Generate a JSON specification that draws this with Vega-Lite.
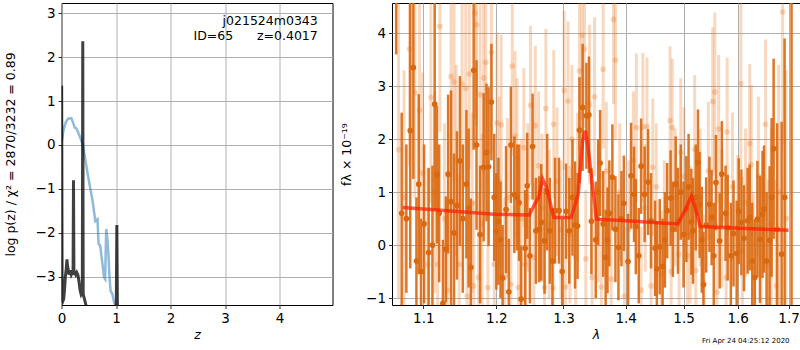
{
  "$schema": "https://vega.github.io/schema/vega-lite/v6.json",
  "padding": {"left": 3.5, "top": 2, "right": 1, "bottom": 0},
  "config": {
    "font": "DejaVu Sans",
    "view": {"stroke": "black", "strokeWidth": 1},
    "concat": {"spacing": 6.5},
    "axis": {
      "domain": false, "ticks": true, "tickColor": "black", "tickSize": 3.5, "tickWidth": 0.8,
      "labelFont": "DejaVu Sans", "labelFontSize": 13.5, "labelColor": "black", "labelPadding": 3,
      "titleFont": "DejaVu Sans", "titleFontSize": 12.5, "titleFontWeight": "normal", "titleColor": "black",
      "gridColor": "#b0b0b0", "gridWidth": 1, "gridOpacity": 1, "labelFlush": false, "labelOverlap": false
    }
  },
  "datasets": {
    "pzblue": [
      {"z": 0.006, "lp": 0.09}, {"z": 0.04, "lp": 0.35}, {"z": 0.08, "lp": 0.52}, {"z": 0.12, "lp": 0.6},
      {"z": 0.18, "lp": 0.61}, {"z": 0.22, "lp": 0.48}, {"z": 0.24, "lp": 0.4}, {"z": 0.27, "lp": 0.38},
      {"z": 0.3, "lp": 0.3}, {"z": 0.34, "lp": 0.18}, {"z": 0.39, "lp": 0.01}, {"z": 0.44, "lp": -0.35},
      {"z": 0.48, "lp": -0.66}, {"z": 0.53, "lp": -1.0}, {"z": 0.57, "lp": -1.27}, {"z": 0.62, "lp": -1.73},
      {"z": 0.66, "lp": -1.69}, {"z": 0.68, "lp": -2.25}, {"z": 0.71, "lp": -2.29}, {"z": 0.75, "lp": -2.7},
      {"z": 0.78, "lp": -3.01}, {"z": 0.8, "lp": -3.05}, {"z": 0.82, "lp": -1.91}, {"z": 0.84, "lp": -2.1},
      {"z": 0.86, "lp": -2.48}, {"z": 0.88, "lp": -3.0}, {"z": 0.9, "lp": -3.32}, {"z": 0.93, "lp": -3.38},
      {"z": 0.96, "lp": -3.55}, {"z": 1.0, "lp": -3.75}
    ],
    "pzdark": [
      {"z": 0.003, "lp": 1.35}, {"z": 0.012, "lp": -3.5}, {"z": 0.025, "lp": -3.55}, {"z": 0.04, "lp": -3.5},
      {"z": 0.055, "lp": -3.3}, {"z": 0.07, "lp": -3.0}, {"z": 0.085, "lp": -2.85}, {"z": 0.1, "lp": -2.6},
      {"z": 0.11, "lp": -2.75}, {"z": 0.125, "lp": -2.85}, {"z": 0.14, "lp": -2.95}, {"z": 0.16, "lp": -2.85},
      {"z": 0.18, "lp": -2.95}, {"z": 0.2, "lp": -2.9}, {"z": 0.212, "lp": -2.95}, {"z": 0.22, "lp": -0.8},
      {"z": 0.228, "lp": -2.95}, {"z": 0.24, "lp": -2.9}, {"z": 0.26, "lp": -2.95}, {"z": 0.28, "lp": -2.9},
      {"z": 0.3, "lp": -2.95}, {"z": 0.32, "lp": -3.1}, {"z": 0.34, "lp": -3.3}, {"z": 0.36, "lp": -3.4},
      {"z": 0.382, "lp": -3.35}, {"z": 0.39, "lp": 2.36}, {"z": 0.398, "lp": -3.4}, {"z": 0.42, "lp": -3.5},
      {"z": 0.44, "lp": -3.6}, {"z": 0.46, "lp": -3.7}, {"z": 0.5, "lp": -4.5}, {"z": 1.0, "lp": -4.5},
      {"z": 1.015, "lp": -1.82}, {"z": 1.03, "lp": -4.5}
    ],
    "leftlabels": [
      {"z": 4.7, "lp": 2.82, "t": "j021524m0343"},
      {"z": 4.7, "lp": 2.49, "t": "ID=65\u00a0\u00a0\u00a0\u00a0\u00a0\u00a0z=0.4017"}
    ],
    "model": [
      {"w": 1.073, "f": 0.71}, {"w": 1.123, "f": 0.66}, {"w": 1.197, "f": 0.585}, {"w": 1.248, "f": 0.57},
      {"w": 1.256, "f": 0.77}, {"w": 1.262, "f": 0.9}, {"w": 1.268, "f": 1.25}, {"w": 1.274, "f": 1.09},
      {"w": 1.285, "f": 0.52}, {"w": 1.312, "f": 0.52}, {"w": 1.323, "f": 0.96}, {"w": 1.33, "f": 1.97},
      {"w": 1.334, "f": 2.16}, {"w": 1.338, "f": 1.91}, {"w": 1.352, "f": 0.49}, {"w": 1.4, "f": 0.46},
      {"w": 1.49, "f": 0.4}, {"w": 1.505, "f": 0.71}, {"w": 1.514, "f": 0.93}, {"w": 1.52, "f": 0.74},
      {"w": 1.53, "f": 0.35}, {"w": 1.7, "f": 0.28}
    ],
    "dark": [
      {"w": 1.065, "f": 6.0, "e": 2.4}, {"w": 1.072, "f": 0.6, "e": 1.9}, {"w": 1.078, "f": 0.5, "e": 1.4},
      {"w": 1.083, "f": 2.16, "e": 2.6}, {"w": 1.087, "f": 3.35, "e": 2.1}, {"w": 1.091, "f": -0.3, "e": 1.2},
      {"w": 1.094, "f": 1.15, "e": 1.7}, {"w": 1.097, "f": -0.5, "e": 1.0}, {"w": 1.101, "f": 0.4, "e": 1.5},
      {"w": 1.107, "f": -0.14, "e": 1.6}, {"w": 1.112, "f": 0.0, "e": 1.5}, {"w": 1.115, "f": 2.66, "e": 2.0},
      {"w": 1.118, "f": 1.33, "e": 1.3}, {"w": 1.121, "f": 0.6, "e": 1.3}, {"w": 1.126, "f": -1.1, "e": 1.2},
      {"w": 1.13, "f": -0.08, "e": 1.0}, {"w": 1.133, "f": 1.34, "e": 1.5}, {"w": 1.137, "f": 0.82, "e": 2.1},
      {"w": 1.141, "f": 0.23, "e": 1.5}, {"w": 1.145, "f": 0.75, "e": 1.4}, {"w": 1.149, "f": 1.59, "e": 1.6},
      {"w": 1.153, "f": 0.5, "e": 1.4}, {"w": 1.158, "f": 1.15, "e": 1.4}, {"w": 1.161, "f": 0.7, "e": 1.5},
      {"w": 1.164, "f": -0.42, "e": 1.3}, {"w": 1.168, "f": 3.3, "e": 1.5}, {"w": 1.172, "f": 1.89, "e": 1.6},
      {"w": 1.177, "f": 0.2, "e": 1.3}, {"w": 1.182, "f": 1.47, "e": 1.4}, {"w": 1.186, "f": 1.75, "e": 1.3},
      {"w": 1.189, "f": 1.48, "e": 1.5}, {"w": 1.193, "f": 2.7, "e": 1.1}, {"w": 1.197, "f": 0.9, "e": 1.2},
      {"w": 1.2, "f": 0.26, "e": 1.1}, {"w": 1.203, "f": 0.45, "e": 1.2}, {"w": 1.206, "f": 0.1, "e": 1.1},
      {"w": 1.209, "f": -0.62, "e": 1.0}, {"w": 1.214, "f": 0.67, "e": 1.2}, {"w": 1.218, "f": -0.88, "e": 1.0},
      {"w": 1.221, "f": 1.89, "e": 1.1}, {"w": 1.226, "f": 0.95, "e": 1.1}, {"w": 1.23, "f": 0.9, "e": 1.0},
      {"w": 1.233, "f": 0.8, "e": 1.1}, {"w": 1.236, "f": -1.02, "e": 1.0}, {"w": 1.242, "f": -0.06, "e": 1.1},
      {"w": 1.245, "f": 1.12, "e": 1.0}, {"w": 1.249, "f": -0.2, "e": 0.9}, {"w": 1.253, "f": 1.86, "e": 1.0},
      {"w": 1.258, "f": 0.27, "e": 1.0}, {"w": 1.263, "f": 0.3, "e": 1.0}, {"w": 1.266, "f": 0.43, "e": 1.1},
      {"w": 1.271, "f": 0.08, "e": 1.0}, {"w": 1.275, "f": 1.0, "e": 1.1}, {"w": 1.279, "f": 0.27, "e": 1.0},
      {"w": 1.283, "f": -0.3, "e": 1.0}, {"w": 1.287, "f": 0.65, "e": 1.0}, {"w": 1.293, "f": 0.65, "e": 1.0},
      {"w": 1.298, "f": -0.5, "e": 1.0}, {"w": 1.304, "f": 0.64, "e": 0.9}, {"w": 1.309, "f": 0.27, "e": 1.0},
      {"w": 1.314, "f": 0.9, "e": 1.1}, {"w": 1.318, "f": 0.38, "e": 1.2}, {"w": 1.322, "f": 0.36, "e": 1.0},
      {"w": 1.325, "f": 2.17, "e": 1.0}, {"w": 1.33, "f": 2.6, "e": 1.2}, {"w": 1.336, "f": 2.44, "e": 1.0},
      {"w": 1.34, "f": 2.46, "e": 1.1}, {"w": 1.344, "f": 0.45, "e": 1.0}, {"w": 1.351, "f": 0.1, "e": 1.1},
      {"w": 1.355, "f": 1.0, "e": 1.0}, {"w": 1.358, "f": 1.55, "e": 1.0}, {"w": 1.363, "f": 0.4, "e": 1.0},
      {"w": 1.367, "f": -0.23, "e": 0.9}, {"w": 1.37, "f": 0.09, "e": 1.0}, {"w": 1.373, "f": 0.6, "e": 1.0},
      {"w": 1.378, "f": 1.28, "e": 1.0}, {"w": 1.383, "f": 0.3, "e": 1.0}, {"w": 1.388, "f": -0.04, "e": 1.0},
      {"w": 1.393, "f": 0.5, "e": 0.9}, {"w": 1.397, "f": 0.79, "e": 0.9}, {"w": 1.404, "f": -0.31, "e": 0.9},
      {"w": 1.409, "f": 1.31, "e": 1.0}, {"w": 1.414, "f": 0.96, "e": 0.9}, {"w": 1.417, "f": 0.35, "e": 0.9},
      {"w": 1.422, "f": -0.2, "e": 0.9}, {"w": 1.426, "f": 1.49, "e": 0.9}, {"w": 1.432, "f": 0.96, "e": 0.9},
      {"w": 1.438, "f": 1.19, "e": 1.0}, {"w": 1.443, "f": 0.46, "e": 0.9}, {"w": 1.45, "f": -0.06, "e": 0.9},
      {"w": 1.453, "f": -0.45, "e": 0.9}, {"w": 1.458, "f": -0.03, "e": 0.9}, {"w": 1.463, "f": -0.4, "e": 0.9},
      {"w": 1.467, "f": 0.1, "e": 0.9}, {"w": 1.471, "f": 0.65, "e": 0.9}, {"w": 1.477, "f": 0.89, "e": 0.9},
      {"w": 1.481, "f": 0.3, "e": 0.9}, {"w": 1.486, "f": 1.15, "e": 0.9}, {"w": 1.49, "f": 0.46, "e": 1.0},
      {"w": 1.495, "f": 1.0, "e": 0.9}, {"w": 1.5, "f": 0.2, "e": 1.0}, {"w": 1.505, "f": 0.68, "e": 1.0},
      {"w": 1.509, "f": 1.1, "e": 1.0}, {"w": 1.514, "f": 0.44, "e": 1.0}, {"w": 1.517, "f": 0.27, "e": 1.0},
      {"w": 1.522, "f": 0.9, "e": 1.0}, {"w": 1.526, "f": 1.56, "e": 1.0}, {"w": 1.529, "f": 0.76, "e": 1.0},
      {"w": 1.533, "f": 0.1, "e": 1.0}, {"w": 1.536, "f": -0.75, "e": 1.0}, {"w": 1.541, "f": 0.38, "e": 0.9},
      {"w": 1.547, "f": 0.77, "e": 0.9}, {"w": 1.551, "f": 0.52, "e": 0.9}, {"w": 1.555, "f": -0.2, "e": 1.0},
      {"w": 1.559, "f": 1.18, "e": 0.9}, {"w": 1.566, "f": 0.08, "e": 0.9}, {"w": 1.57, "f": 1.34, "e": 1.0},
      {"w": 1.577, "f": 0.6, "e": 0.9}, {"w": 1.581, "f": 0.33, "e": 1.0}, {"w": 1.587, "f": -0.2, "e": 1.0},
      {"w": 1.592, "f": 0.22, "e": 1.0}, {"w": 1.598, "f": -0.16, "e": 1.0}, {"w": 1.602, "f": 0.64, "e": 1.0},
      {"w": 1.607, "f": 0.43, "e": 1.0}, {"w": 1.612, "f": 0.13, "e": 1.0}, {"w": 1.619, "f": 0.46, "e": 1.0},
      {"w": 1.623, "f": 0.52, "e": 1.0}, {"w": 1.628, "f": -0.3, "e": 1.1}, {"w": 1.633, "f": -0.61, "e": 1.1},
      {"w": 1.638, "f": 0.49, "e": 1.1}, {"w": 1.643, "f": 0.11, "e": 1.2}, {"w": 1.648, "f": 0.58, "e": 1.2},
      {"w": 1.651, "f": 0.68, "e": 1.2}, {"w": 1.656, "f": -0.3, "e": 1.3}, {"w": 1.662, "f": 0.09, "e": 1.4},
      {"w": 1.666, "f": 0.9, "e": 1.5}, {"w": 1.67, "f": 1.82, "e": 1.7}, {"w": 1.677, "f": 0.3, "e": 2.0},
      {"w": 1.686, "f": -0.17, "e": 2.5}, {"w": 1.692, "f": 0.9, "e": 3.0}, {"w": 1.706, "f": 6.0, "e": 8.0}
    ],
    "light": [
      {"w": 1.068, "f": 1.8, "e": 2.8}, {"w": 1.075, "f": 0.9, "e": 2.4}, {"w": 1.082, "f": 3.7, "e": 2.2},
      {"w": 1.089, "f": 2.88, "e": 2.0}, {"w": 1.095, "f": 2.55, "e": 2.1}, {"w": 1.099, "f": 1.36, "e": 1.9},
      {"w": 1.106, "f": -0.36, "e": 1.8}, {"w": 1.11, "f": 2.79, "e": 2.0}, {"w": 1.115, "f": 1.0, "e": 1.9},
      {"w": 1.119, "f": -0.36, "e": 1.7}, {"w": 1.122, "f": 4.13, "e": 2.0}, {"w": 1.128, "f": 0.5, "e": 1.8},
      {"w": 1.132, "f": -0.86, "e": 1.7}, {"w": 1.137, "f": 3.18, "e": 1.9}, {"w": 1.141, "f": 3.08, "e": 1.9},
      {"w": 1.144, "f": 1.6, "e": 1.8}, {"w": 1.148, "f": -0.36, "e": 1.7}, {"w": 1.152, "f": 3.04, "e": 1.8},
      {"w": 1.157, "f": 2.96, "e": 1.9}, {"w": 1.159, "f": -0.96, "e": 1.6}, {"w": 1.162, "f": 3.23, "e": 1.8},
      {"w": 1.166, "f": 0.8, "e": 1.7}, {"w": 1.168, "f": -0.77, "e": 1.6}, {"w": 1.17, "f": 4.38, "e": 2.0},
      {"w": 1.172, "f": 4.16, "e": 1.9}, {"w": 1.175, "f": -0.61, "e": 1.6}, {"w": 1.177, "f": 2.84, "e": 1.8},
      {"w": 1.18, "f": 0.4, "e": 1.7}, {"w": 1.182, "f": 3.16, "e": 1.8}, {"w": 1.185, "f": 3.45, "e": 1.9},
      {"w": 1.188, "f": -0.8, "e": 1.6}, {"w": 1.193, "f": 3.64, "e": 1.9}, {"w": 1.197, "f": -0.36, "e": 1.6},
      {"w": 1.201, "f": 2.31, "e": 1.7}, {"w": 1.204, "f": 1.2, "e": 1.6}, {"w": 1.207, "f": 2.27, "e": 1.7},
      {"w": 1.212, "f": -0.61, "e": 1.5}, {"w": 1.216, "f": 0.9, "e": 1.5}, {"w": 1.221, "f": -0.74, "e": 1.5},
      {"w": 1.223, "f": 3.38, "e": 1.7}, {"w": 1.227, "f": 2.06, "e": 1.6}, {"w": 1.23, "f": 1.65, "e": 1.5},
      {"w": 1.232, "f": -0.8, "e": 1.4}, {"w": 1.236, "f": 0.5, "e": 1.5}, {"w": 1.24, "f": 1.84, "e": 1.5},
      {"w": 1.242, "f": -0.36, "e": 1.4}, {"w": 1.246, "f": 0.9, "e": 1.4}, {"w": 1.25, "f": 2.64, "e": 1.5},
      {"w": 1.255, "f": -0.23, "e": 1.4}, {"w": 1.257, "f": 2.26, "e": 1.5}, {"w": 1.262, "f": 1.5, "e": 1.4},
      {"w": 1.267, "f": 0.7, "e": 1.4}, {"w": 1.271, "f": -0.8, "e": 1.3}, {"w": 1.273, "f": 2.58, "e": 1.5},
      {"w": 1.278, "f": 0.4, "e": 1.4}, {"w": 1.284, "f": -0.81, "e": 1.3}, {"w": 1.285, "f": 2.28, "e": 1.4},
      {"w": 1.29, "f": 1.2, "e": 1.4}, {"w": 1.296, "f": 0.3, "e": 1.3}, {"w": 1.301, "f": 2.92, "e": 1.5},
      {"w": 1.303, "f": -0.79, "e": 1.3}, {"w": 1.307, "f": 2.72, "e": 1.5}, {"w": 1.31, "f": 0.2, "e": 1.3},
      {"w": 1.313, "f": 2.0, "e": 1.4}, {"w": 1.319, "f": -0.23, "e": 1.3}, {"w": 1.322, "f": 1.1, "e": 1.4},
      {"w": 1.325, "f": 3.29, "e": 1.5}, {"w": 1.329, "f": 3.96, "e": 1.6}, {"w": 1.333, "f": 3.7, "e": 1.5},
      {"w": 1.335, "f": -0.26, "e": 1.3}, {"w": 1.341, "f": 2.66, "e": 1.5}, {"w": 1.345, "f": -0.61, "e": 1.3},
      {"w": 1.349, "f": 2.8, "e": 1.5}, {"w": 1.355, "f": 0.6, "e": 1.3}, {"w": 1.36, "f": -0.79, "e": 1.3},
      {"w": 1.363, "f": 3.32, "e": 1.5}, {"w": 1.368, "f": 1.4, "e": 1.3}, {"w": 1.376, "f": -0.64, "e": 1.3},
      {"w": 1.38, "f": 4.26, "e": 1.6}, {"w": 1.383, "f": 3.49, "e": 1.5}, {"w": 1.39, "f": 1.0, "e": 1.3},
      {"w": 1.398, "f": -0.96, "e": 1.3}, {"w": 1.405, "f": 0.3, "e": 1.3}, {"w": 1.413, "f": 1.6, "e": 1.3},
      {"w": 1.418, "f": 2.22, "e": 1.4}, {"w": 1.426, "f": -0.85, "e": 1.2}, {"w": 1.429, "f": 2.23, "e": 1.4},
      {"w": 1.433, "f": 0.7, "e": 1.2}, {"w": 1.436, "f": 2.24, "e": 1.3}, {"w": 1.443, "f": -0.77, "e": 1.2},
      {"w": 1.446, "f": 1.47, "e": 1.3}, {"w": 1.452, "f": 1.1, "e": 1.2}, {"w": 1.461, "f": -0.55, "e": 1.2},
      {"w": 1.466, "f": 0.4, "e": 1.2}, {"w": 1.476, "f": 2.35, "e": 1.4}, {"w": 1.478, "f": -0.5, "e": 1.2},
      {"w": 1.48, "f": 2.22, "e": 1.3}, {"w": 1.485, "f": 0.9, "e": 1.3}, {"w": 1.492, "f": -0.17, "e": 1.3},
      {"w": 1.495, "f": 1.75, "e": 1.4}, {"w": 1.501, "f": 1.3, "e": 1.3}, {"w": 1.507, "f": -0.2, "e": 1.3},
      {"w": 1.512, "f": 0.2, "e": 1.3}, {"w": 1.52, "f": 1.81, "e": 1.4}, {"w": 1.522, "f": -0.48, "e": 1.3},
      {"w": 1.53, "f": 0.9, "e": 1.3}, {"w": 1.537, "f": -0.72, "e": 1.3}, {"w": 1.545, "f": 1.4, "e": 1.3},
      {"w": 1.553, "f": 2.71, "e": 1.4}, {"w": 1.557, "f": 2.89, "e": 1.5}, {"w": 1.561, "f": -0.89, "e": 1.3},
      {"w": 1.564, "f": 2.19, "e": 1.4}, {"w": 1.57, "f": 0.5, "e": 1.3}, {"w": 1.578, "f": -0.61, "e": 1.3},
      {"w": 1.58, "f": 2.14, "e": 1.4}, {"w": 1.59, "f": 1.1, "e": 1.4}, {"w": 1.6, "f": 0.3, "e": 1.4},
      {"w": 1.606, "f": 3.05, "e": 1.6}, {"w": 1.609, "f": -0.11, "e": 1.4}, {"w": 1.615, "f": 0.8, "e": 1.4},
      {"w": 1.623, "f": 1.92, "e": 1.5}, {"w": 1.626, "f": 1.52, "e": 1.5}, {"w": 1.63, "f": -0.42, "e": 1.4},
      {"w": 1.64, "f": 1.3, "e": 1.5}, {"w": 1.645, "f": -0.23, "e": 1.5}, {"w": 1.654, "f": 2.28, "e": 1.6},
      {"w": 1.659, "f": -0.36, "e": 1.6}, {"w": 1.665, "f": 0.4, "e": 1.8}, {"w": 1.675, "f": -0.77, "e": 2.0},
      {"w": 1.68, "f": 1.0, "e": 2.4}, {"w": 1.688, "f": 4.4, "e": 2.5}, {"w": 1.695, "f": 0.5, "e": 2.8}
    ],
    "datestamp": [{"w": 1.702, "f": -1.806, "t": "Fri Apr 24 04:25:12 2020"}]
  },
  "hconcat": [
    {
      "width": 271,
      "height": 302,
      "encoding": {
        "x": {"field": "z", "type": "quantitative", "scale": {"domain": [0, 4.97], "nice": false, "zero": false},
              "axis": {"values": [0, 1, 2, 3, 4], "title": "z", "titleFontStyle": "italic", "titlePadding": 3}},
        "y": {"field": "lp", "type": "quantitative", "scale": {"domain": [-3.64, 3.23], "nice": false, "zero": false},
              "axis": {"values": [-3, -2, -1, 0, 1, 2, 3], "title": "log p(z) / χ² = 2870/3232 = 0.89", "titlePadding": 18}}
      },
      "layer": [
        {"data": {"name": "pzblue"}, "mark": {"type": "line", "color": "#1f77b4", "opacity": 0.5, "strokeWidth": 2.5, "clip": true}},
        {"data": {"name": "pzdark"}, "mark": {"type": "line", "color": "black", "opacity": 0.75, "strokeWidth": 3, "clip": true}},
        {"data": {"name": "leftlabels"}, "mark": {"type": "text", "align": "right", "baseline": "middle", "fontSize": 12.5, "color": "black", "font": "DejaVu Sans"},
         "encoding": {"text": {"field": "t"}}}
      ]
    },
    {
      "width": 408,
      "height": 302,
      "encoding": {
        "x": {"field": "w", "type": "quantitative", "scale": {"type": "log", "domain": [1.0597, 1.7233], "nice": false, "zero": false},
              "axis": {"values": [1.1, 1.2, 1.3, 1.4, 1.5, 1.6, 1.7], "format": ".1f", "title": "λ", "titleFontStyle": "italic", "titlePadding": 3}},
        "y": {"field": "f", "type": "quantitative", "scale": {"domain": [-1.13, 4.57], "nice": false, "zero": false},
              "axis": {"values": [-1, 0, 1, 2, 3, 4], "title": "fλ × 10⁻¹⁹", "titlePadding": 12}}
      },
      "layer": [
        {"data": {"name": "light"}, "mark": {"type": "errorbar", "color": "#e8721e", "opacity": 0.28, "thickness": 3, "ticks": false, "clip": true},
         "encoding": {"yError": {"field": "e"}}},
        {"data": {"name": "light"}, "mark": {"type": "circle", "color": "#e8721e", "opacity": 0.28, "size": 32, "clip": true}},
        {"data": {"name": "dark"}, "mark": {"type": "errorbar", "color": "#d9680f", "opacity": 0.9, "thickness": 2.5, "ticks": false, "clip": true},
         "encoding": {"yError": {"field": "e"}}},
        {"data": {"name": "dark"}, "mark": {"type": "circle", "color": "#d9680f", "opacity": 1, "size": 32, "clip": true}},
        {"data": {"name": "model"}, "mark": {"type": "line", "color": "#ff1a00", "opacity": 0.7, "strokeWidth": 3.5, "clip": true}},
        {"mark": {"type": "rule", "color": "black", "strokeWidth": 2, "strokeDash": [2, 2.5]}, "encoding": {"y": {"datum": 0}, "x": null}},
        {"data": {"name": "datestamp"}, "mark": {"type": "text", "align": "right", "baseline": "middle", "fontSize": 7, "color": "black", "font": "DejaVu Sans"},
         "encoding": {"text": {"field": "t"}}}
      ]
    }
  ]
}
